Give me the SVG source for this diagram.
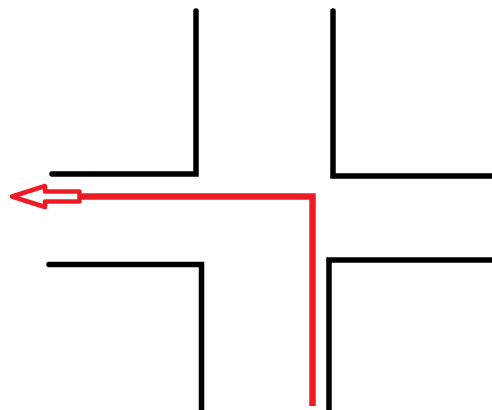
<svg xmlns="http://www.w3.org/2000/svg" width="492" height="410" viewBox="0 0 492 410">
  <style>
    .wall{fill:none;stroke:#000;stroke-width:5.5;stroke-linecap:round;stroke-linejoin:miter}
    .route{fill:none;stroke:#ED1C24;stroke-width:6.5;stroke-linejoin:miter}
    .head{fill:#fff;stroke:#ED1C24;stroke-width:4.5;stroke-linejoin:round}
  </style>
  <rect width="492" height="410" fill="#fff"/>
  <g id="walls">
    <path id="wall-top-left" class="wall" d="M196 11 V174 H52"/>
    <path id="wall-top-right" class="wall" d="M333 11 V176 H495"/>
    <path id="wall-bottom-left" class="wall" d="M49 264.5 H201.5 V415"/>
    <path id="wall-bottom-right" class="wall" d="M329 415 V260 H495"/>
  </g>
  <g id="route">
    <path class="route" d="M312.5 406 V196.5 H79"/>
    <polygon class="head" points="12,196.5 45,186 45,191.5 79.5,191.5 79.5,201.5 45,201.5 45,207"/>
  </g>
</svg>
